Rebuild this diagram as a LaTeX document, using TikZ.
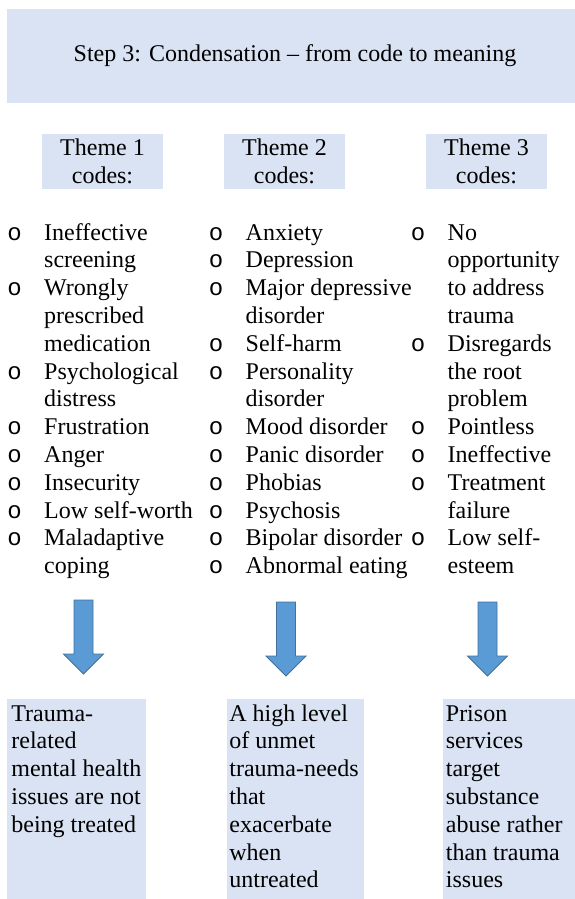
\documentclass[tikz,border=0pt]{standalone}
\usepackage{fontspec}
\setmainfont{Liberation Serif}
\newfontfamily\bulfont{Liberation Mono}
\usetikzlibrary{positioning}

\definecolor{paleblue}{HTML}{DAE3F3}
\definecolor{arrowblue}{HTML}{5B9BD5}
\definecolor{arrowline}{HTML}{41719C}
\newcommand{\bul}{{\bulfont o}}

\begin{document}
\begin{tikzpicture}[
  x=0.5pt, y=-0.5pt,
  panel/.style={fill=paleblue},
  txt/.style={inner sep=0pt, font=\fontsize{12}{13.9}\selectfont},
  theme/.style={txt, fill=paleblue, align=center, minimum width=60.5pt, minimum height=27.5pt},
  codes/.style={txt, anchor=base west},
  down/.style={fill=arrowblue, draw=arrowline, line width=0.4pt, line join=miter}
]
\useasboundingbox (0,0) rectangle (574,899);

\fill[panel] (7,9) rectangle (580,103);
\node[txt, anchor=base] (title) at (295,62) {Step 3: Condensation – from code to meaning};

\node[theme] (t1) at (102.5,161.5) {Theme 1\\codes:};
\node[theme] (t2) at (284.5,161.5) {Theme 2\\codes:};
\node[theme] (t3) at (486.5,161.5) {Theme 3\\codes:};

\node[codes] (c1) at (7,240) {\begin{tabular}[t]{@{}p{18.4pt}@{}l@{}}
\bul & Ineffective\\ & screening\\
\bul & Wrongly\\ & prescribed\\ & medication\\
\bul & Psychological\\ & distress\\
\bul & Frustration\\
\bul & Anger\\
\bul & Insecurity\\
\bul & Low self-worth\\
\bul & Maladaptive\\ & coping
\end{tabular}};
\node[codes] (c2) at (208.5,240) {\begin{tabular}[t]{@{}p{18.4pt}@{}l@{}}
\bul & Anxiety\\
\bul & Depression\\
\bul & Major depressive\\ & disorder\\
\bul & Self-harm\\
\bul & Personality\\ & disorder\\
\bul & Mood disorder\\
\bul & Panic disorder\\
\bul & Phobias\\
\bul & Psychosis\\
\bul & Bipolar disorder\\
\bul & Abnormal eating
\end{tabular}};
\node[codes] (c3) at (410.5,240) {\begin{tabular}[t]{@{}p{18.4pt}@{}l@{}}
\bul & No\\ & opportunity\\ & to address\\ & trauma\\
\bul & Disregards\\ & the root\\ & problem\\
\bul & Pointless\\
\bul & Ineffective\\
\bul & Treatment\\ & failure\\
\bul & Low self-\\ & esteem
\end{tabular}};

\foreach \cx/\top in {83.5/600, 286/602, 487.5/602}
  \draw[down] (\cx-9.5,\top) -- (\cx+9.5,\top) -- (\cx+9.5,\top+54) -- (\cx+20,\top+54)
    -- (\cx,\top+74) -- (\cx-20,\top+54) -- (\cx-9.5,\top+54) -- cycle;

\fill[panel] (7,699) rectangle (146,905);
\fill[panel] (227,699) rectangle (364,905);
\fill[panel] (443,699) rectangle (580,905);

\node[codes] (r1) at (11,721) {\begin{tabular}[t]{@{}l@{}}
Trauma-\\related\\mental health\\issues are not\\being treated
\end{tabular}};
\node[codes] (r2) at (229,721) {\begin{tabular}[t]{@{}l@{}}
A high level\\of unmet\\trauma-needs\\that\\exacerbate\\when\\untreated
\end{tabular}};
\node[codes] (r3) at (445.5,721) {\begin{tabular}[t]{@{}l@{}}
Prison\\services\\target\\substance\\abuse rather\\than trauma\\issues
\end{tabular}};
\end{tikzpicture}
\end{document}
